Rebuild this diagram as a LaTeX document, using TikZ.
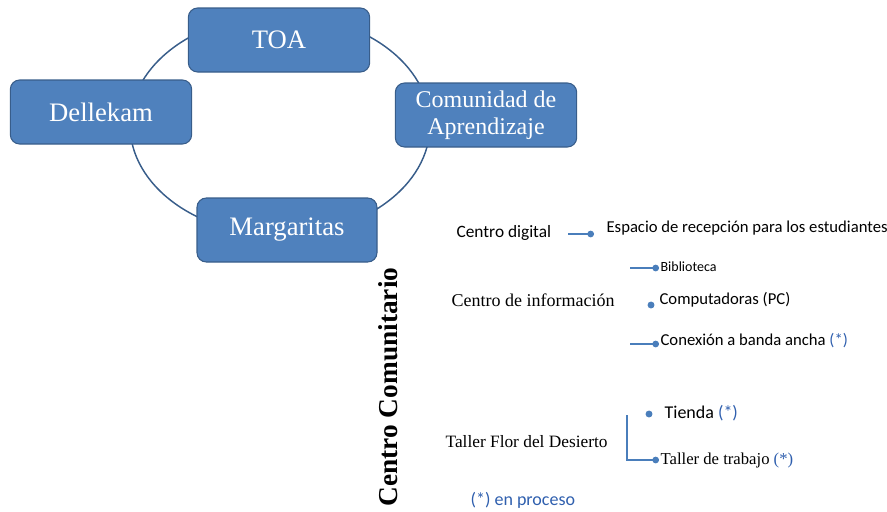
\documentclass[tikz,border=0pt]{standalone}
\usepackage{fontspec}
\setmainfont{Liberation Serif}
\newfontfamily\smallsans{Carlito}
\usetikzlibrary{arrows.meta}
\usetikzlibrary{positioning}
\definecolor{boxblue}{HTML}{4F81BD}
\definecolor{boxedge}{HTML}{385D8A}
\definecolor{linkblue}{HTML}{4A7EBB}
\definecolor{noteblue}{HTML}{2F5FAE}
\tikzset{cyclebox/.style = {rectangle, rounded corners=7pt, fill=boxblue, draw=boxedge,
                            line width=0.8pt, text=white, align=center,
                            minimum width=136pt, minimum height=48pt,
                            font=\fontsize{20}{22}\selectfont},
         sanslabel/.style = {font=\smallsans\fontsize{12.5}{14}\selectfont, inner sep=1pt},
         seriflabel/.style = {font=\fontsize{13}{15}\selectfont, inner sep=1pt},
         dotlink/.style = {draw=linkblue, line width=1pt, -{Circle[length=5pt]}}}

\begin{document}
\begin{tikzpicture}[x=0.75pt, y=-0.75pt]
  \useasboundingbox (0,0) rectangle (887,511);

  % cycle
  \draw[boxedge, line width=1.1pt] (280,125) ellipse [x radius=150, y radius=110];
  \node[cyclebox] (toa) at (279,40) {TOA};
  \node[cyclebox] (dell) at (101,112) {Dellekam};
  \node[cyclebox, font=\fontsize{18}{20}\selectfont] (comu) at (486,115) {Comunidad de\\Aprendizaje};
  \node[cyclebox, minimum width=135pt] (marg) at (287,230) {Margaritas};

  \node[rotate=90, font=\bfseries\fontsize{20.5}{22}\selectfont] (cc) at (388,387) {Centro Comunitario};

  % centro digital
  \node[sanslabel, anchor=west, font=\smallsans\fontsize{13}{15}\selectfont] (cdig) at (455,233) {Centro digital};
  \node[sanslabel, anchor=west] (esp) at (605,228) {Espacio de recepción para los estudiantes};
  \coordinate (cdigA) at (568,234);
  \coordinate (cdigB) at (594,234);
  \draw[dotlink] (cdigA) -- (cdigB);

  % centro de informacion
  \coordinate (bibA) at (630,268);
  \node[sanslabel, anchor=west, font=\smallsans\fontsize{10.5}{12}\selectfont] (bib) at (659,267) {Biblioteca};
  \draw[dotlink] (bibA) -- (bibA -| bib.west);
  \node[seriflabel, anchor=west, font=\fontsize{13.5}{15}\selectfont] (cinf) at (450,300) {Centro de información};
  \node[sanslabel, anchor=west] (comp) at (658,300) {Computadoras (PC)};
  \fill[linkblue] (651,305) circle (2.6pt);
  \coordinate (conA) at (630,344);
  \node[sanslabel, anchor=west] (con) at (659,341) {Conexión a banda ancha \textcolor{noteblue}{(*)}};
  \draw[dotlink] (conA) -- (conA -| con.west);

  % taller
  \node[seriflabel, anchor=west] (tfd) at (444,442) {Taller Flor del Desierto};
  \node[sanslabel, anchor=west, font=\smallsans\fontsize{13.5}{15}\selectfont] (tie) at (663,413) {Tienda \textcolor{noteblue}{(*)}};
  \node[seriflabel, anchor=west, font=\fontsize{12.5}{15}\selectfont] (ttr) at (659,460) {Taller de trabajo \textcolor{noteblue}{(*)}};
  \fill[linkblue] (649,414) circle (2.6pt);
  \coordinate (tfdA) at (627,415);
  \draw[dotlink] (tfdA) |- (ttr.west);

  \node[sanslabel, anchor=west, text=noteblue, font=\smallsans\fontsize{13.5}{15}\selectfont] (nota) at (469,500) {(*) en proceso};
\end{tikzpicture}
\end{document}
